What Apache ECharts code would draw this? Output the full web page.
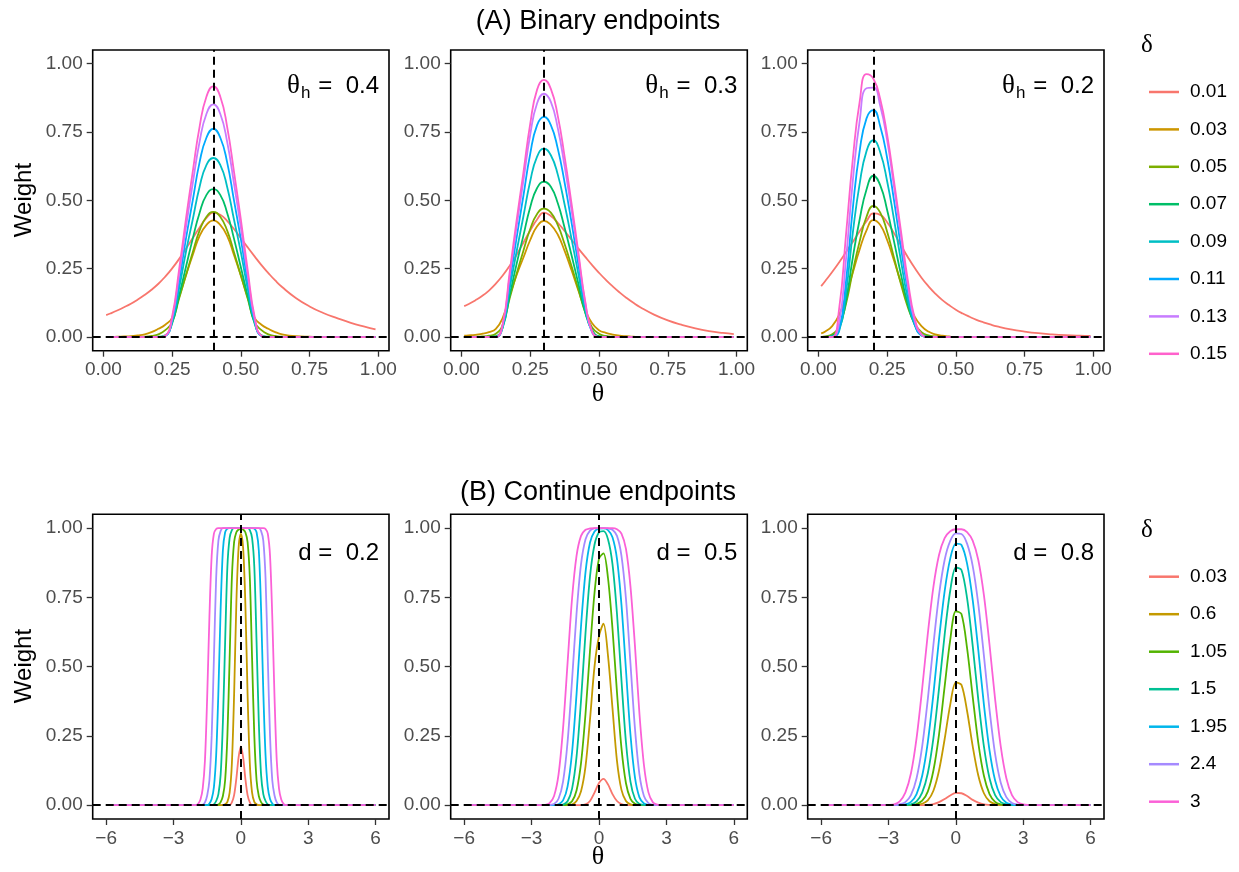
<!DOCTYPE html>
<html>
<head>
<meta charset="utf-8">
<script src="https://cdn.jsdelivr.net/npm/echarts@6/dist/echarts.min.js"></script>
<style>
html, body { margin: 0; padding: 0; background: #fff; }
#main { width: 1239px; height: 872px; }
</style>
</head>
<body>
<div id="main"></div>
<script>
// ---- data ----
var deltaA = ['0.01', '0.03', '0.05', '0.07', '0.09', '0.11', '0.13', '0.15'];
var deltaB = ['0.03', '0.6', '1.05', '1.5', '1.95', '2.4', '3'];
var thetaH = [0.4, 0.3, 0.2];
var dVals = [0.2, 0.5, 0.8];

var thetaTop = [0.01, 0.025, 0.05, 0.075, 0.1, 0.125, 0.15, 0.175, 0.2, 0.225, 0.25, 0.275, 0.3, 0.325, 0.35, 0.375, 0.4,
  0.425, 0.45, 0.475, 0.5, 0.525, 0.55, 0.575, 0.6, 0.625, 0.65, 0.7, 0.75, 0.8, 0.85, 0.9, 0.95, 0.99];

// (A) theta_h = 0.4, rows in legend order
var wA1 = [
  [0.08, 0.086, 0.097, 0.109, 0.122, 0.137, 0.154, 0.173, 0.195, 0.221, 0.251, 0.285, 0.323, 0.362, 0.401, 0.436, 0.455, 0.447, 0.425, 0.395, 0.362, 0.328, 0.295, 0.263, 0.234, 0.207, 0.183, 0.143, 0.112, 0.088, 0.069, 0.052, 0.038, 0.028],
  [0, 0, 0.001, 0.002, 0.003, 0.006, 0.01, 0.018, 0.03, 0.045, 0.07, 0.145, 0.225, 0.3, 0.37, 0.41, 0.427, 0.41, 0.37, 0.3, 0.225, 0.145, 0.07, 0.045, 0.03, 0.018, 0.01, 0.003, 0.001, 0, 0, 0, 0, 0],
  [0, 0, 0, 0, 0, 0, 0.001, 0.004, 0.01, 0.025, 0.055, 0.14, 0.225, 0.31, 0.39, 0.44, 0.458, 0.44, 0.39, 0.31, 0.225, 0.14, 0.055, 0.025, 0.01, 0.004, 0.001, 0, 0, 0, 0, 0, 0, 0],
  [0, 0, 0, 0, 0, 0, 0, 0, 0.001, 0.006, 0.05, 0.15, 0.255, 0.36, 0.455, 0.52, 0.541, 0.52, 0.455, 0.36, 0.255, 0.15, 0.05, 0.006, 0.001, 0, 0, 0, 0, 0, 0, 0, 0, 0],
  [0, 0, 0, 0, 0, 0, 0, 0, 0, 0.004, 0.055, 0.175, 0.31, 0.43, 0.55, 0.63, 0.655, 0.63, 0.55, 0.43, 0.31, 0.175, 0.055, 0.004, 0, 0, 0, 0, 0, 0, 0, 0, 0, 0],
  [0, 0, 0, 0, 0, 0, 0, 0, 0, 0.004, 0.06, 0.2, 0.358, 0.5, 0.64, 0.73, 0.762, 0.73, 0.64, 0.5, 0.358, 0.2, 0.06, 0.004, 0, 0, 0, 0, 0, 0, 0, 0, 0, 0],
  [0, 0, 0, 0, 0, 0, 0, 0, 0, 0.004, 0.068, 0.226, 0.4, 0.562, 0.715, 0.817, 0.851, 0.817, 0.715, 0.562, 0.4, 0.226, 0.068, 0.004, 0, 0, 0, 0, 0, 0, 0, 0, 0, 0],
  [0, 0, 0, 0, 0, 0, 0, 0, 0, 0.005, 0.075, 0.245, 0.43, 0.605, 0.77, 0.88, 0.917, 0.88, 0.77, 0.605, 0.43, 0.245, 0.075, 0.005, 0, 0, 0, 0, 0, 0, 0, 0, 0, 0]
];
// (A) theta_h = 0.3
var wA2 = [
  [0.113, 0.12, 0.134, 0.15, 0.17, 0.195, 0.225, 0.26, 0.3, 0.345, 0.39, 0.43, 0.455, 0.443, 0.418, 0.388, 0.356, 0.324, 0.293, 0.263, 0.235, 0.209, 0.185, 0.163, 0.143, 0.125, 0.109, 0.082, 0.061, 0.045, 0.032, 0.022, 0.015, 0.011],
  [0.005, 0.006, 0.008, 0.012, 0.018, 0.03, 0.07, 0.15, 0.225, 0.29, 0.355, 0.405, 0.425, 0.41, 0.375, 0.315, 0.245, 0.17, 0.1, 0.05, 0.025, 0.015, 0.009, 0.005, 0.003, 0.001, 0, 0, 0, 0, 0, 0, 0, 0],
  [0, 0, 0.001, 0.002, 0.005, 0.012, 0.045, 0.14, 0.23, 0.315, 0.395, 0.45, 0.47, 0.455, 0.41, 0.34, 0.26, 0.175, 0.09, 0.035, 0.012, 0.004, 0.001, 0, 0, 0, 0, 0, 0, 0, 0, 0, 0, 0],
  [0, 0, 0, 0, 0.001, 0.003, 0.035, 0.15, 0.265, 0.37, 0.475, 0.545, 0.568, 0.55, 0.49, 0.4, 0.3, 0.195, 0.09, 0.025, 0.003, 0.001, 0, 0, 0, 0, 0, 0, 0, 0, 0, 0, 0, 0],
  [0, 0, 0, 0, 0, 0, 0.035, 0.175, 0.31, 0.44, 0.57, 0.66, 0.689, 0.665, 0.595, 0.485, 0.36, 0.23, 0.1, 0.02, 0, 0, 0, 0, 0, 0, 0, 0, 0, 0, 0, 0, 0, 0],
  [0, 0, 0, 0, 0, 0, 0.04, 0.2, 0.36, 0.515, 0.67, 0.775, 0.805, 0.775, 0.69, 0.565, 0.42, 0.265, 0.115, 0.017, 0, 0, 0, 0, 0, 0, 0, 0, 0, 0, 0, 0, 0, 0],
  [0, 0, 0, 0, 0, 0, 0.045, 0.22, 0.4, 0.57, 0.74, 0.855, 0.89, 0.86, 0.765, 0.625, 0.465, 0.295, 0.125, 0.018, 0, 0, 0, 0, 0, 0, 0, 0, 0, 0, 0, 0, 0, 0],
  [0, 0, 0, 0, 0, 0, 0.047, 0.235, 0.423, 0.6, 0.78, 0.905, 0.941, 0.908, 0.81, 0.66, 0.49, 0.31, 0.13, 0.02, 0, 0, 0, 0, 0, 0, 0, 0, 0, 0, 0, 0, 0, 0]
];
// (A) theta_h = 0.2
var wA3 = [
  [0.186, 0.205, 0.238, 0.273, 0.31, 0.348, 0.387, 0.424, 0.452, 0.447, 0.42, 0.38, 0.336, 0.293, 0.253, 0.217, 0.186, 0.159, 0.136, 0.117, 0.1, 0.086, 0.074, 0.063, 0.054, 0.046, 0.039, 0.028, 0.02, 0.014, 0.01, 0.007, 0.005, 0.004],
  [0.013, 0.02, 0.04, 0.08, 0.15, 0.235, 0.32, 0.39, 0.428, 0.41, 0.355, 0.28, 0.2, 0.13, 0.075, 0.04, 0.02, 0.01, 0.005, 0.002, 0, 0, 0, 0, 0, 0, 0, 0, 0, 0, 0, 0, 0, 0],
  [0, 0.002, 0.01, 0.04, 0.12, 0.24, 0.35, 0.44, 0.48, 0.455, 0.385, 0.29, 0.195, 0.11, 0.05, 0.018, 0.006, 0.002, 0, 0, 0, 0, 0, 0, 0, 0, 0, 0, 0, 0, 0, 0, 0, 0],
  [0, 0, 0.005, 0.03, 0.13, 0.29, 0.43, 0.54, 0.59, 0.555, 0.465, 0.35, 0.23, 0.12, 0.045, 0.01, 0.002, 0, 0, 0, 0, 0, 0, 0, 0, 0, 0, 0, 0, 0, 0, 0, 0, 0],
  [0, 0, 0.002, 0.02, 0.16, 0.38, 0.56, 0.68, 0.72, 0.675, 0.57, 0.43, 0.28, 0.14, 0.045, 0.006, 0, 0, 0, 0, 0, 0, 0, 0, 0, 0, 0, 0, 0, 0, 0, 0, 0, 0],
  [0, 0, 0, 0.025, 0.2, 0.47, 0.68, 0.8, 0.83, 0.77, 0.655, 0.5, 0.33, 0.17, 0.05, 0.006, 0, 0, 0, 0, 0, 0, 0, 0, 0, 0, 0, 0, 0, 0, 0, 0, 0, 0],
  [0, 0, 0, 0.05, 0.28, 0.57, 0.79, 0.91, 0.912, 0.845, 0.72, 0.55, 0.37, 0.19, 0.06, 0.008, 0, 0, 0, 0, 0, 0, 0, 0, 0, 0, 0, 0, 0, 0, 0, 0, 0, 0],
  [0, 0, 0, 0.1, 0.37, 0.65, 0.86, 0.962, 0.945, 0.87, 0.74, 0.57, 0.39, 0.21, 0.07, 0.01, 0, 0, 0, 0, 0, 0, 0, 0, 0, 0, 0, 0, 0, 0, 0, 0, 0, 0]
];

// (B) d = 0.2
var thetaB1 = [-6, -2.2, -2, -1.9, -1.8, -1.7, -1.6, -1.5, -1.4, -1.3, -1.2, -1.1, -1, -0.9, -0.8, -0.7, -0.6, -0.5, -0.4, -0.3, -0.2, -0.1,
  0, 0.1, 0.2, 0.3, 0.4, 0.5, 0.6, 0.7, 0.8, 0.9, 1, 1.1, 1.2, 1.3, 1.4, 1.5, 1.6, 1.7, 1.8, 1.9, 2, 2.2, 6];
var wB1 = [
  [0, 0, 0, 0, 0, 0, 0, 0, 0, 0, 0, 0, 0, 0, 0, 0, 0, 0, 0.01, 0.036, 0.096, 0.173, 0.212, 0.173, 0.096, 0.036, 0.01, 0, 0, 0, 0, 0, 0, 0, 0, 0, 0, 0, 0, 0, 0, 0, 0, 0, 0],
  [0, 0, 0, 0, 0, 0, 0, 0, 0, 0, 0, 0, 0, 0, 0, 0.003, 0.012, 0.045, 0.15, 0.4, 0.73, 0.93, 0.98, 0.93, 0.73, 0.4, 0.15, 0.045, 0.012, 0.003, 0, 0, 0, 0, 0, 0, 0, 0, 0, 0, 0, 0, 0, 0, 0],
  [0, 0, 0, 0, 0, 0, 0, 0, 0, 0, 0, 0, 0.002, 0.011, 0.033, 0.09, 0.25, 0.53, 0.82, 0.95, 0.985, 0.995, 0.997, 0.995, 0.985, 0.95, 0.82, 0.53, 0.25, 0.09, 0.033, 0.011, 0.002, 0, 0, 0, 0, 0, 0, 0, 0, 0, 0, 0, 0],
  [0, 0, 0, 0, 0, 0, 0, 0, 0, 0, 0.003, 0.015, 0.04, 0.11, 0.3, 0.59, 0.86, 0.965, 0.993, 1, 1, 1, 1, 1, 1, 1, 0.993, 0.965, 0.86, 0.59, 0.3, 0.11, 0.04, 0.015, 0.003, 0, 0, 0, 0, 0, 0, 0, 0, 0, 0],
  [0, 0, 0, 0, 0, 0, 0, 0, 0.006, 0.022, 0.065, 0.18, 0.41, 0.71, 0.92, 0.985, 0.998, 1, 1, 1, 1, 1, 1, 1, 1, 1, 1, 1, 0.998, 0.985, 0.92, 0.71, 0.41, 0.18, 0.065, 0.022, 0.006, 0, 0, 0, 0, 0, 0, 0, 0],
  [0, 0, 0, 0, 0, 0.001, 0.01, 0.035, 0.09, 0.25, 0.53, 0.82, 0.955, 0.99, 1, 1, 1, 1, 1, 1, 1, 1, 1, 1, 1, 1, 1, 1, 1, 1, 1, 0.99, 0.955, 0.82, 0.53, 0.25, 0.09, 0.035, 0.01, 0.001, 0, 0, 0, 0, 0],
  [0, 0, 0, 0.005, 0.02, 0.06, 0.16, 0.39, 0.68, 0.9, 0.98, 0.997, 1, 1, 1, 1, 1, 1, 1, 1, 1, 1, 1, 1, 1, 1, 1, 1, 1, 1, 1, 1, 1, 0.997, 0.98, 0.9, 0.68, 0.39, 0.16, 0.06, 0.02, 0.005, 0, 0, 0]
];

// (B) d = 0.5
var thetaB2 = [-6, -3, -2.8, -2.6, -2.4, -2.2, -2, -1.8, -1.6, -1.4, -1.2, -1, -0.8, -0.6, -0.4, -0.2, 0, 0.2, 0.4, 0.6, 0.8,
  1, 1.2, 1.4, 1.6, 1.8, 2, 2.2, 2.4, 2.6, 2.8, 3, 3.2, 6];
var wB2 = [
  [0, 0, 0, 0, 0, 0, 0, 0, 0, 0, 0, 0, 0, 0.003, 0.015, 0.045, 0.08, 0.095, 0.075, 0.04, 0.015, 0.004, 0, 0, 0, 0, 0, 0, 0, 0, 0, 0, 0, 0],
  [0, 0, 0, 0, 0, 0, 0, 0, 0, 0, 0.002, 0.015, 0.05, 0.14, 0.31, 0.5, 0.61, 0.655, 0.54, 0.35, 0.16, 0.055, 0.015, 0.003, 0, 0, 0, 0, 0, 0, 0, 0, 0, 0],
  [0, 0, 0, 0, 0, 0, 0, 0, 0, 0.003, 0.014, 0.053, 0.152, 0.33, 0.558, 0.766, 0.89, 0.909, 0.82, 0.637, 0.407, 0.206, 0.079, 0.023, 0.005, 0.001, 0, 0, 0, 0, 0, 0, 0, 0],
  [0, 0, 0, 0, 0, 0, 0, 0, 0.002, 0.014, 0.059, 0.174, 0.378, 0.622, 0.826, 0.94, 0.985, 0.989, 0.96, 0.87, 0.691, 0.45, 0.227, 0.085, 0.023, 0.004, 0.001, 0, 0, 0, 0, 0, 0, 0],
  [0, 0, 0, 0, 0, 0, 0, 0.003, 0.017, 0.067, 0.19, 0.4, 0.646, 0.841, 0.948, 0.988, 0.998, 0.999, 0.993, 0.967, 0.889, 0.723, 0.488, 0.255, 0.1, 0.028, 0.006, 0.001, 0, 0, 0, 0, 0, 0],
  [0, 0, 0, 0, 0, 0.001, 0.004, 0.023, 0.085, 0.227, 0.45, 0.691, 0.87, 0.96, 0.991, 0.999, 1, 1, 0.999, 0.994, 0.972, 0.9, 0.745, 0.512, 0.277, 0.111, 0.033, 0.007, 0.001, 0, 0, 0, 0, 0],
  [0, 0, 0, 0, 0.001, 0.007, 0.033, 0.111, 0.277, 0.512, 0.745, 0.9, 0.972, 0.994, 0.999, 1, 1, 1, 1, 1, 0.996, 0.98, 0.925, 0.79, 0.575, 0.33, 0.145, 0.046, 0.01, 0.002, 0, 0, 0, 0]
];

// (B) d = 0.8
var thetaB3 = [-6, -4, -3.5, -3.25, -3, -2.75, -2.5, -2.25, -2, -1.75, -1.5, -1.25, -1, -0.75, -0.5, -0.25, 0, 0.25, 0.5, 0.75,
  1, 1.25, 1.5, 1.75, 2, 2.25, 2.5, 2.75, 3, 3.25, 3.5, 4, 6];
var wB3 = [
  [0, 0, 0, 0, 0, 0, 0, 0, 0, 0, 0, 0.001, 0.004, 0.011, 0.022, 0.035, 0.044, 0.043, 0.033, 0.019, 0.009, 0.003, 0.001, 0, 0, 0, 0, 0, 0, 0, 0, 0, 0],
  [0, 0, 0, 0, 0, 0, 0, 0, 0, 0.001, 0.005, 0.017, 0.052, 0.125, 0.238, 0.363, 0.443, 0.434, 0.34, 0.213, 0.107, 0.043, 0.014, 0.004, 0.001, 0, 0, 0, 0, 0, 0, 0, 0],
  [0, 0, 0, 0, 0, 0, 0, 0, 0.001, 0.004, 0.016, 0.049, 0.125, 0.255, 0.428, 0.597, 0.7, 0.69, 0.567, 0.392, 0.225, 0.106, 0.04, 0.012, 0.003, 0.001, 0, 0, 0, 0, 0, 0, 0],
  [0, 0, 0, 0, 0, 0, 0, 0.001, 0.003, 0.014, 0.045, 0.115, 0.242, 0.421, 0.615, 0.774, 0.858, 0.849, 0.747, 0.576, 0.381, 0.212, 0.097, 0.036, 0.011, 0.003, 0.001, 0, 0, 0, 0, 0, 0],
  [0, 0, 0, 0, 0, 0, 0.001, 0.003, 0.012, 0.04, 0.106, 0.227, 0.401, 0.599, 0.772, 0.89, 0.944, 0.939, 0.872, 0.741, 0.56, 0.363, 0.198, 0.089, 0.032, 0.009, 0.002, 0, 0, 0, 0, 0, 0],
  [0, 0, 0, 0, 0, 0, 0.003, 0.011, 0.036, 0.097, 0.212, 0.382, 0.579, 0.758, 0.885, 0.954, 0.981, 0.979, 0.944, 0.864, 0.726, 0.54, 0.345, 0.184, 0.081, 0.029, 0.008, 0.002, 0, 0, 0, 0, 0],
  [0, 0, 0, 0, 0.001, 0.003, 0.014, 0.045, 0.115, 0.242, 0.421, 0.618, 0.788, 0.903, 0.964, 0.989, 0.996, 0.996, 0.986, 0.955, 0.885, 0.758, 0.579, 0.382, 0.212, 0.097, 0.036, 0.011, 0.003, 0.001, 0, 0, 0]
];

var ticksTop = [0, 0.25, 0.5, 0.75, 1];
var ticksBot = [-6, -3, 0, 3, 6];
var ticksY = [0, 0.25, 0.5, 0.75, 1];

// ---- layout / style ----
var colA = ['#F8766D', '#CD9600', '#7CAE00', '#00BE67', '#00BFC4', '#00A9FF', '#C77CFF', '#FF61CC'];
var colB = ['#F8766D', '#C49A00', '#53B400', '#00C094', '#00B6EB', '#A58AFF', '#FB61D7'];
var colLeft = [92.7, 450.7, 807.7], colW = [296.3, 296.6, 296.3];
var rowTop = [50, 514.3], rowH = [300.7, 304.7];
var FONT = '"Liberation Sans", Arial, Helvetica, sans-serif';
var SERIF = '"Liberation Serif", "DejaVu Serif", serif';

var chart = echarts.init(document.getElementById('main'));

var panels = [
  { r: 0, c: 0, xs: thetaTop, w: wA1, names: deltaA, cols: colA, pre: '', v: thetaH[0], lab: thetaH[0] },
  { r: 0, c: 1, xs: thetaTop, w: wA2, names: deltaA, cols: colA, pre: '', v: thetaH[1], lab: thetaH[1] },
  { r: 0, c: 2, xs: thetaTop, w: wA3, names: deltaA, cols: colA, pre: '', v: thetaH[2], lab: thetaH[2] },
  { r: 1, c: 0, xs: thetaB1, w: wB1, names: deltaB, cols: colB, pre: 'B', v: 0, lab: dVals[0] },
  { r: 1, c: 1, xs: thetaB2, w: wB2, names: deltaB, cols: colB, pre: 'B', v: 0, lab: dVals[1] },
  { r: 1, c: 2, xs: thetaB3, w: wB3, names: deltaB, cols: colB, pre: 'B', v: 0, lab: dVals[2] }
];

var grids = [], xAxes = [], yAxes = [], series = [], graphics = [];

function text(x, y, s, size, align, family, extra) {
  var el = {
    type: 'text', x: x, y: y, silent: true,
    style: {
      text: s, fontSize: size, fontFamily: family || FONT, fill: '#000',
      align: align, textAlign: align, verticalAlign: 'middle', textVerticalAlign: 'middle'
    }
  };
  if (extra) { for (var k in extra) el[k] = extra[k]; }
  return el;
}

panels.forEach(function (p, gi) {
  var top = p.r === 0;
  var left = colLeft[p.c], width = colW[p.c], gTop = rowTop[p.r], height = rowH[p.r];
  var right = left + width;
  grids.push({
    left: left, top: gTop, width: width, height: height,
    show: true, borderColor: '#000', borderWidth: 1.6, backgroundColor: 'rgba(0,0,0,0)',
    outerBoundsMode: 'none'
  });
  var xt = top ? ticksTop : ticksBot;
  xAxes.push({
    gridIndex: gi, type: 'value',
    min: top ? -0.039 : -6.6, max: top ? 1.039 : 6.6,
    axisLine: { show: false, onZero: false },
    splitLine: { show: false },
    axisTick: { show: true, length: 6, customValues: xt, lineStyle: { color: '#333', width: 1.3 } },
    axisLabel: {
      customValues: xt, color: '#4D4D4D', fontSize: 19, fontFamily: FONT, margin: 10,
      formatter: top ? function (v) { return v.toFixed(2); }
                     : function (v) { return v < 0 ? '\u2212' + Math.abs(v) : String(v); }
    }
  });
  yAxes.push({
    gridIndex: gi, type: 'value', min: -0.05, max: 1.05,
    axisLine: { show: false, onZero: false },
    splitLine: { show: false },
    axisTick: { show: true, length: 6, customValues: ticksY, lineStyle: { color: '#333', width: 1.3 } },
    axisLabel: {
      customValues: ticksY, color: '#4D4D4D', fontSize: 19, fontFamily: FONT, margin: 10,
      formatter: function (v) { return v.toFixed(2); }
    }
  });
  p.w.forEach(function (ys, k) {
    series.push({
      type: 'line', name: p.pre + p.names[k], xAxisIndex: gi, yAxisIndex: gi,
      data: p.xs.map(function (x, i) { return [x, ys[i]]; }),
      symbol: 'none', showSymbol: false, smooth: top ? 0.5 : 0.3, silent: true, z: 2,
      lineStyle: { color: p.cols[k], width: 1.8 },
      itemStyle: { color: p.cols[k] }
    });
  });
  // reference lines (dashed)
  series.push({
    type: 'line', xAxisIndex: gi, yAxisIndex: gi, data: [], silent: true, z: 4,
    markLine: {
      symbol: 'none', silent: true, animation: false, label: { show: false },
      lineStyle: { color: '#000', type: [8, 5], width: 2 },
      data: [{ xAxis: p.v }, { yAxis: 0 }]
    }
  });
  // panel annotation
  if (top) {
    graphics.push(text(right - 89, 86, '\u03b8', 27, 'right', SERIF));
    graphics.push(text(right - 88, 93, 'h', 17, 'left'));
    graphics.push(text(right - 10, 86, '=  ' + p.lab, 24, 'right'));
  } else {
    graphics.push(text(right - 10, 553, 'd =  ' + p.lab, 24, 'right'));
  }
});

// titles, axis titles, legend titles
graphics.push(text(598, 22, '(A) Binary endpoints', 27, 'center'));
graphics.push(text(598, 493, '(B) Continue endpoints', 27, 'center'));
graphics.push(text(24, 200, 'Weight', 24, 'center', FONT, { rotation: Math.PI / 2 }));
graphics.push(text(24, 666, 'Weight', 24, 'center', FONT, { rotation: Math.PI / 2 }));
graphics.push(text(598, 394, '\u03b8', 26, 'center', SERIF));
graphics.push(text(598, 857, '\u03b8', 26, 'center', SERIF));
graphics.push(text(1141, 45, '\u03b4', 25, 'left', SERIF));
graphics.push(text(1141, 530, '\u03b4', 25, 'left', SERIF));

var legendText = { fontSize: 19, fontFamily: FONT, color: '#000', lineHeight: 20, padding: [0, 0, 0, 6] };

chart.setOption({
  animation: false,
  backgroundColor: '#fff',
  grid: grids,
  xAxis: xAxes,
  yAxis: yAxes,
  legend: [
    {
      data: deltaA, orient: 'vertical', left: 1144, top: 77, icon: 'rect',
      itemWidth: 30, itemHeight: 2.5, itemGap: 17.4, selectedMode: false,
      textStyle: legendText
    },
    {
      data: deltaB.map(function (n) { return 'B' + n; }),
      formatter: function (n) { return n.slice(1); },
      orient: 'vertical', left: 1144, top: 561.7, icon: 'rect',
      itemWidth: 30, itemHeight: 2.5, itemGap: 17.5, selectedMode: false,
      textStyle: legendText
    }
  ],
  graphic: graphics,
  series: series
});
</script>
</body>
</html>
